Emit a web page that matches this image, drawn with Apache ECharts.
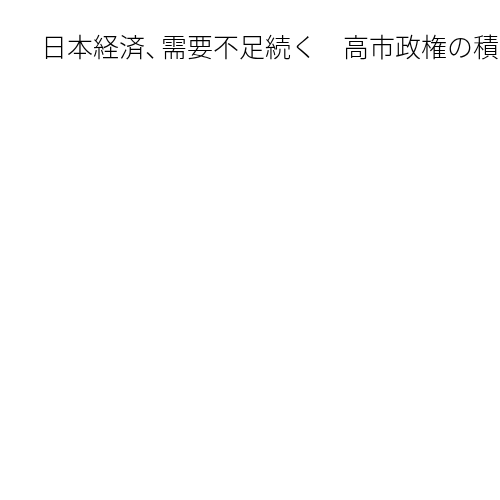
<!DOCTYPE html>
<html>
<head>
<meta charset="utf-8">
<script src="https://cdn.jsdelivr.net/npm/echarts@6/dist/echarts.min.js"></script>
<style>html,body{margin:0;padding:0;background:#fff;}#main{width:500px;height:500px;}</style>
</head>
<body>
<div id="main"></div>
<script>
const titleParts = ['日本経済', '、', '需要不足続く', '　', '高市政権の積極財政'];
const categories = [];
const values = [];

const chart = echarts.init(document.getElementById('main'));
const base = {
  fontFamily: '"Noto Sans CJK JP", sans-serif',
  fontSize: 26,
  fontWeight: 300,
  color: '#000000'
};
chart.setOption({
  backgroundColor: '#ffffff',
  animation: false,
  title: {
    text: '{a|' + titleParts[0] + '}{p|' + titleParts[1] + '}{a|' + titleParts[2] + '}{a|' + titleParts[3] + '}{a|' + titleParts[4] + '}',
    left: 36,
    top: 29,
    textStyle: {
      rich: {
        a: Object.assign({}, base),
        p: Object.assign({}, base, { width: 16 })
      }
    }
  },
  series: []
});
</script>
</body>
</html>
